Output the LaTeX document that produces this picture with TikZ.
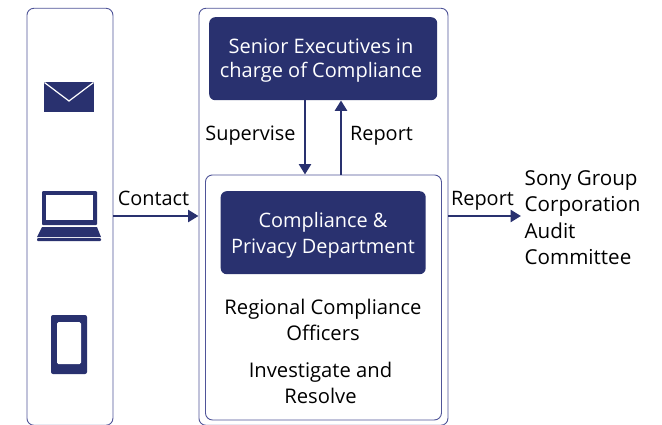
\documentclass[tikz,border=0pt]{standalone}
\usepackage{fontspec}
\setmainfont{Open Sans}
\usetikzlibrary{arrows.meta}
\definecolor{navy}{HTML}{29316F}
\definecolor{edge}{HTML}{4F5498}
\tikzset{
  x=1pt,y=-1pt,
  panel/.style={draw=edge,line width=0.9pt,fill=white,rounded corners=7pt,inner sep=0pt,anchor=north west},
  darkbox/.style={fill=navy,rounded corners=6pt,inner sep=0pt,anchor=north west},
  boxtext/.style={text=white,align=center,inner sep=0pt},
  label/.style={inner sep=0pt,align=center,text=black,font=\fontsize{19.9}{26}\selectfont},
  link/.style={draw=navy,line width=2.6pt,-{Triangle[length=10.5pt,width=12pt]}},
  icon/.style={fill=navy,rounded corners=1pt},
}
\begin{document}
\begin{tikzpicture}
\useasboundingbox (0,0) rectangle (662,424);
\clip (0,0) rectangle (662,424);
\node[panel,minimum width=86pt,minimum height=417pt] (left) at (26.5,7.8) {};
\node[panel,minimum width=249pt,minimum height=417pt] (outer) at (198.5,7.8) {};
\node[panel,minimum width=236pt,minimum height=245pt] (inner) at (205,174.5) {};
\node[darkbox,minimum width=228pt,minimum height=83pt] (senior) at (209,17) {};
\node[boxtext,font=\fontsize{20}{24}\selectfont] (seniortext) at (321,61) {Senior Executives in\\charge of Compliance};
\node[darkbox,minimum width=205pt,minimum height=83pt] (dept) at (220.5,191) {};
\node[boxtext,font=\fontsize{19.9}{26}\selectfont] (depttext) at (323,235.3) {Compliance \&\\Privacy Department};
\node[label,font=\fontsize{20.2}{26}\selectfont] (regional) at (323,319.5) {Regional Compliance\\Officers};
\node[label,font=\fontsize{20.2}{26}\selectfont] (resolve) at (320.5,382.5) {Investigate and\\Resolve};
\node[label,anchor=base] (supervise) at (250.5,140) {Supervise};
\node[label,anchor=base] (reportup) at (381.5,140) {Report};
\node[label,anchor=base] (contact) at (153.5,205) {Contact};
\node[label,anchor=base] (reportout) at (482.5,205) {Report};
\node[label,anchor=north west,align=left,font=\fontsize{20.6}{26.3}\selectfont] (sony) at (524.5,170.5) {Sony Group\\Corporation\\Audit\\Committee};
\coordinate (sonyin) at (521,216);
\draw[link] (left.east |- sonyin) -- (outer.west |- sonyin);
\draw[link] (outer.east |- sonyin) -- (sonyin);
\coordinate (supx) at (305,0);
\coordinate (repx) at (341,0);
\draw[link] (senior.south -| supx) -- (inner.north -| supx);
\draw[link] (inner.north -| repx) -- (senior.south -| repx);
% envelope
\fill[navy] (44,82) rectangle (94,112);
\draw[white,line width=1.2pt] (44.5,82.5) -- (69,101) -- (93.5,82.5);
% laptop
\fill[icon] (42,191) rectangle (97,225);
\fill[white] (46,195) rectangle (93,220);
\fill[navy] (42,227) -- (97,227) -- (101,237) -- (37,237) -- cycle;
\fill[icon] (37,238) rectangle (101,241);
% phone
\fill[navy,rounded corners=2pt] (51,315) rectangle (87,374);
\fill[white,rounded corners=1.5pt] (57,322) rectangle (81,364);
\end{tikzpicture}
\end{document}
